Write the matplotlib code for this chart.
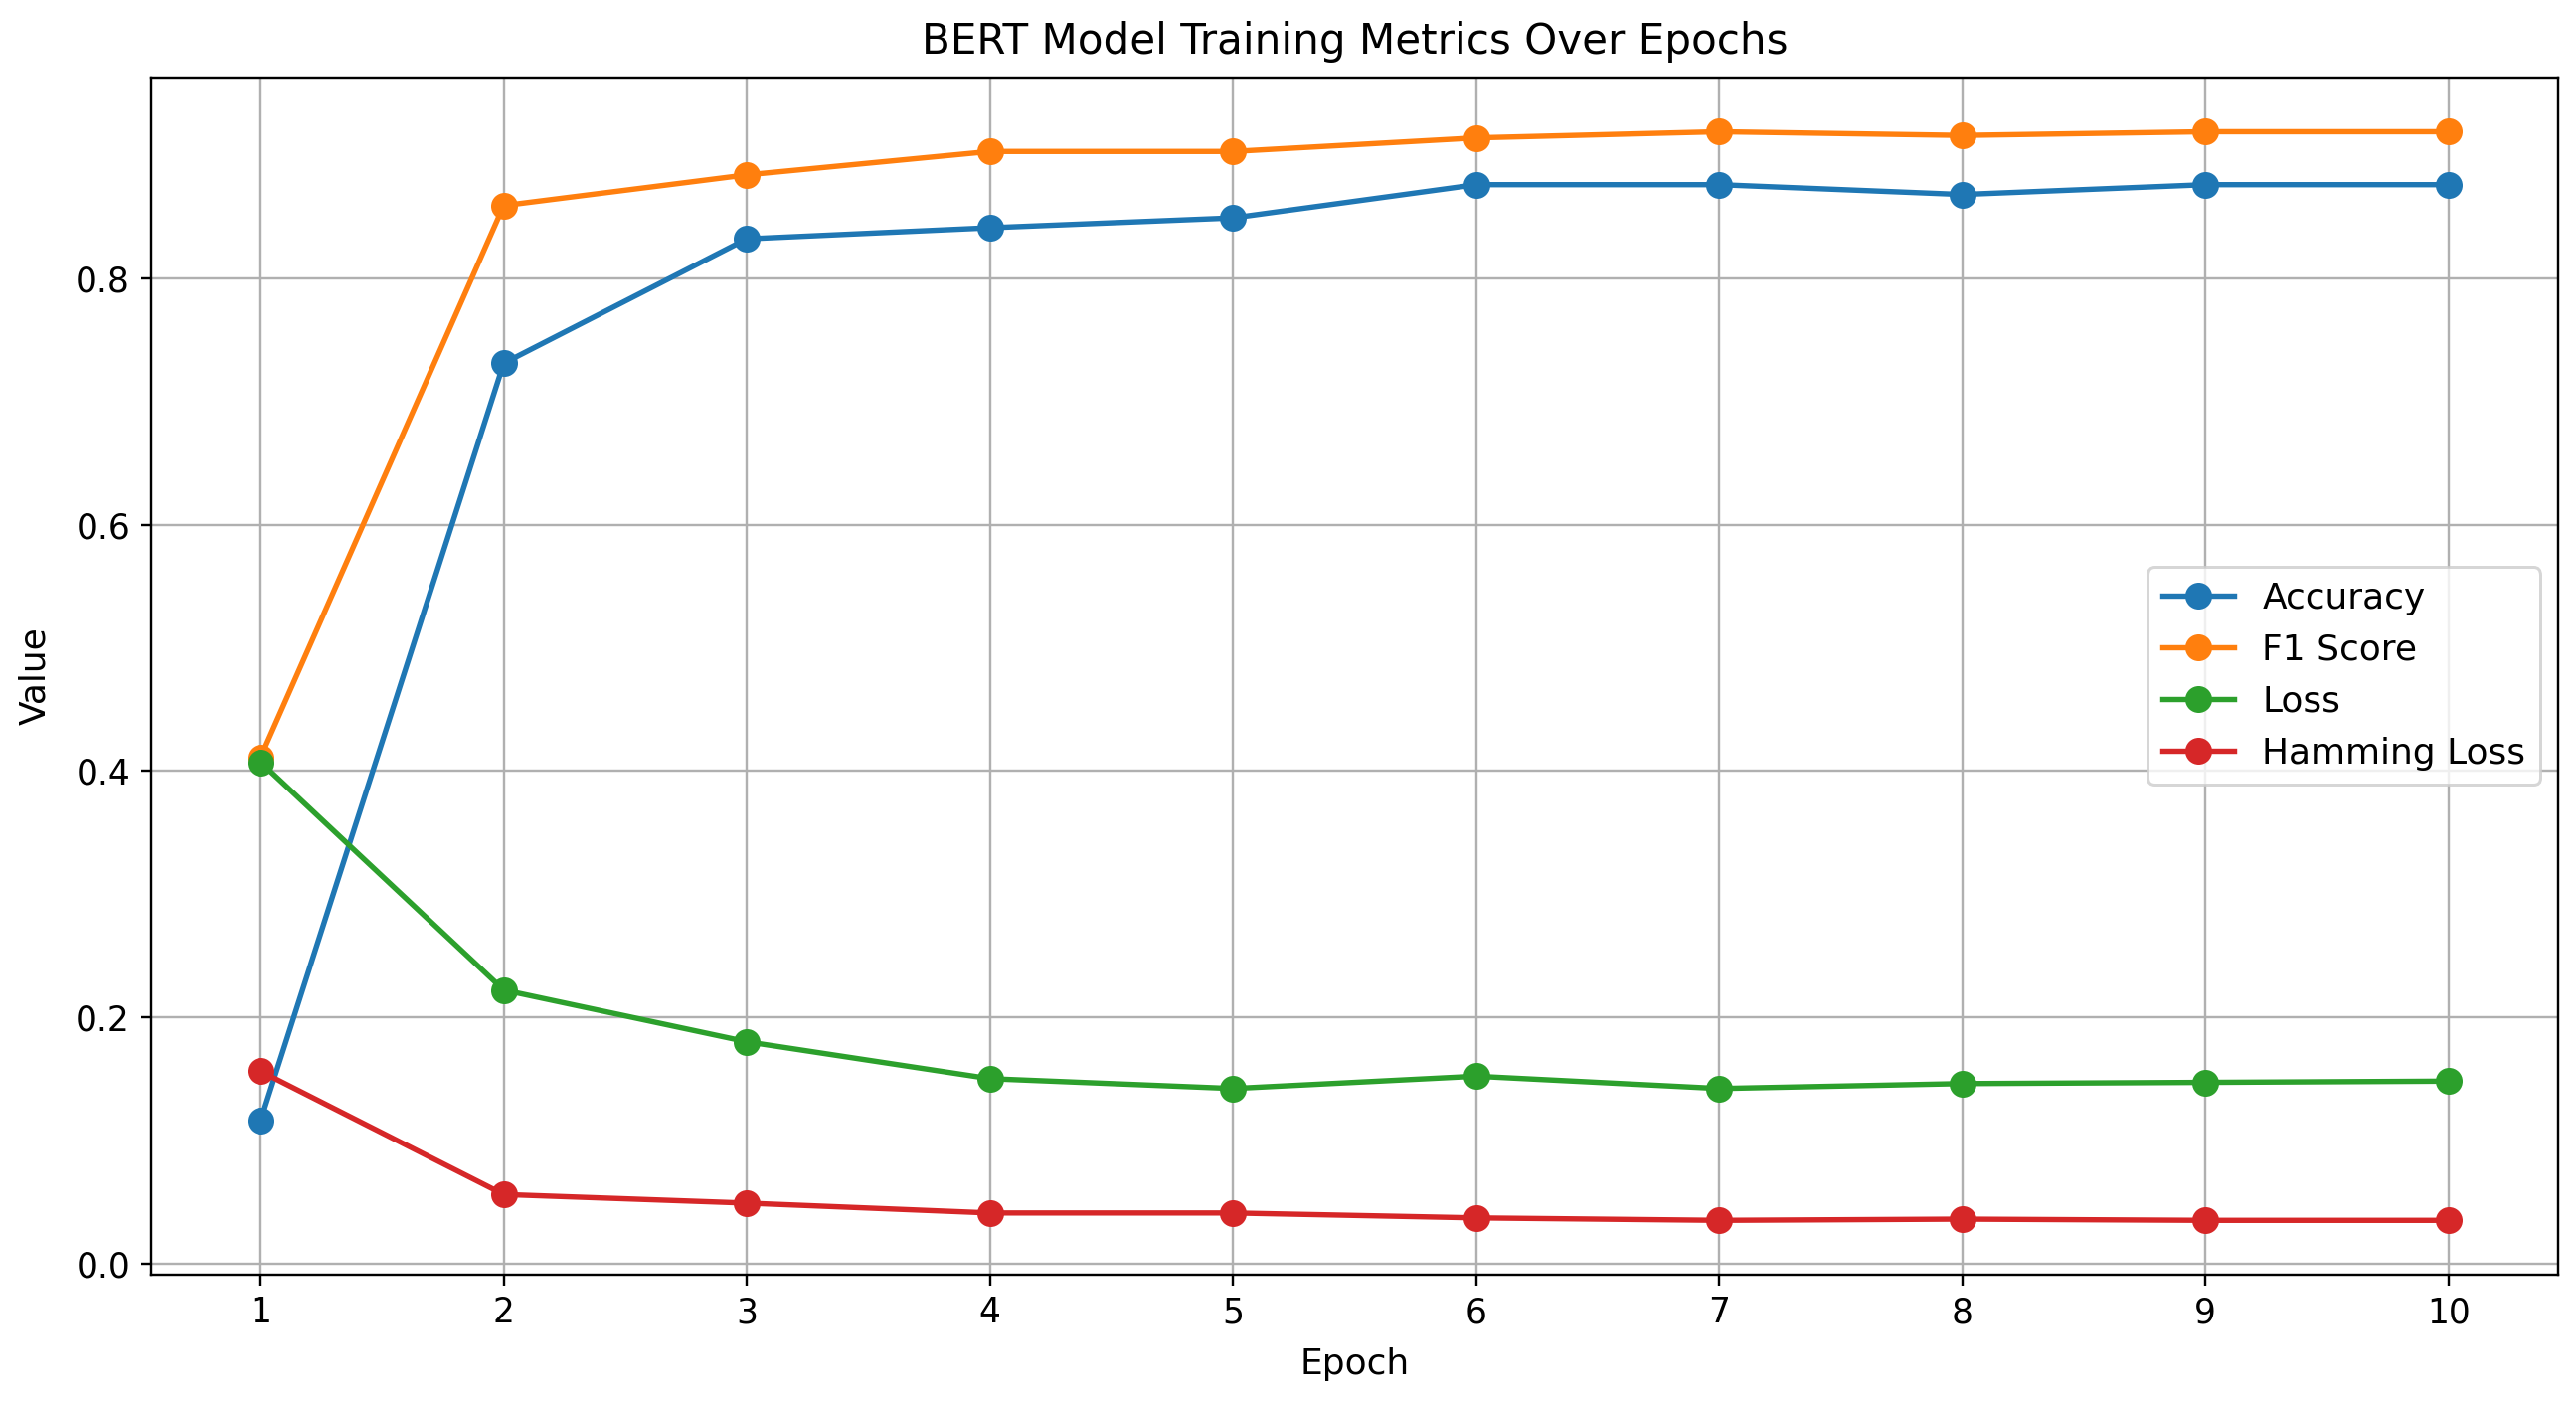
import matplotlib
matplotlib.use("Agg")
import matplotlib.pyplot as plt

epochs = [1, 2, 3, 4, 5, 6, 7, 8, 9, 10]
accuracy = [0.116, 0.731, 0.832, 0.841, 0.849, 0.876, 0.876, 0.868, 0.876, 0.876]
f1_score = [0.411, 0.859, 0.884, 0.903, 0.903, 0.914, 0.919, 0.916, 0.919, 0.919]
loss = [0.407, 0.222, 0.180, 0.150, 0.142, 0.152, 0.142, 0.146, 0.147, 0.148]
hamming_loss = [0.156, 0.056, 0.049, 0.041, 0.041, 0.037, 0.035, 0.036, 0.035, 0.035]


def main():
    fig = plt.figure(figsize=(2591 / 216, 1413 / 216), dpi=216)
    ax = fig.add_axes([0.0587, 0.0927, 0.9343, 0.8523])

    style = dict(marker="o", markersize=8, linewidth=1.8)
    ax.plot(epochs, accuracy, label="Accuracy", **style)
    ax.plot(epochs, f1_score, label="F1 Score", **style)
    ax.plot(epochs, loss, label="Loss", **style)
    ax.plot(epochs, hamming_loss, label="Hamming Loss", **style)

    ax.set_xticks(epochs)
    ax.tick_params(labelsize=11.5)
    ax.set_title("BERT Model Training Metrics Over Epochs", fontsize=14, pad=8)
    ax.set_xlabel("Epoch", fontsize=12, labelpad=6)
    ax.set_ylabel("Value", fontsize=12, labelpad=8)
    ax.legend(loc="center right", fontsize=12)
    ax.grid(True)

    fig.savefig("out.png", dpi=216)


if __name__ == "__main__":
    main()
